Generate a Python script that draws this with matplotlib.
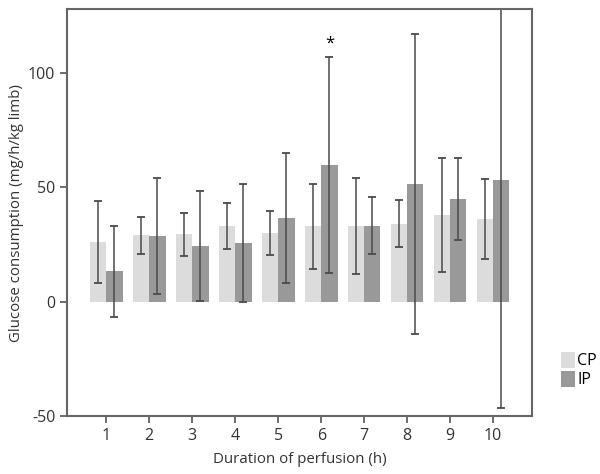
import matplotlib
matplotlib.use("Agg")
import matplotlib.pyplot as plt
import numpy as np

plt.rcParams["font.family"] = ["Open Sans", "DejaVu Sans"]
plt.rcParams["axes.unicode_minus"] = False

hours = [1, 2, 3, 4, 5, 6, 7, 8, 9, 10]
cp_mean = [26.0, 29.0, 29.5, 33.2, 30.0, 33.0, 33.0, 34.2, 38.0, 36.4]
cp_err = [18.0, 8.0, 9.5, 10.0, 9.7, 18.6, 21.0, 10.2, 25.0, 17.5]
ip_mean = [13.3, 28.7, 24.3, 25.7, 36.7, 59.8, 33.3, 51.5, 45.0, 53.4]
ip_err = [20.0, 25.5, 24.0, 26.0, 28.3, 47.4, 12.6, 65.6, 18.0, 100.0]
star_hour = 6
star_y = 113

cp_color = "#dcdcdc"
ip_color = "#999999"
line_color = "#4a4a4a"

fig, ax = plt.subplots(figsize=(6, 4.74), dpi=100)
fig.subplots_adjust(left=0.112, right=0.887, bottom=0.122, top=0.981)

x = np.array(hours)
w = 0.38
ekw = dict(ecolor=line_color, elinewidth=1.1, capsize=2.8, capthick=1.3)
ax.bar(x - w / 2, cp_mean, w, color=cp_color, label="CP",
       yerr=cp_err, error_kw=ekw)
ax.bar(x + w / 2, ip_mean, w, color=ip_color, label="IP",
       yerr=ip_err, error_kw=ekw)
ax.text(star_hour + w / 2, star_y, "*", ha="center", va="center", fontsize=12)

ax.set_xlim(0.09, 10.91)
ax.set_ylim(-50, 128)
ax.set_xticks(hours)
ax.set_yticks([-50, 0, 50, 100])
ax.set_xlabel("Duration of perfusion (h)", fontsize=10.8, color="#333333",
              labelpad=6)
ax.set_ylabel("Glucose consumption (mg/h/kg limb)", fontsize=10.8,
              color="#333333", labelpad=3)
ax.tick_params(labelsize=11.5, colors="#555555", labelcolor="#333333",
               length=5, width=1.2)
for s in ax.spines.values():
    s.set_color("#666666")
    s.set_linewidth(1.5)

ax.legend(loc="center left", bbox_to_anchor=(1.062, 0.113), frameon=False,
          fontsize=11.5, handlelength=0.85, handleheight=1.15,
          handletextpad=0.15, labelspacing=0.1, borderpad=0, borderaxespad=0)

fig.savefig("out.png", dpi=100)
